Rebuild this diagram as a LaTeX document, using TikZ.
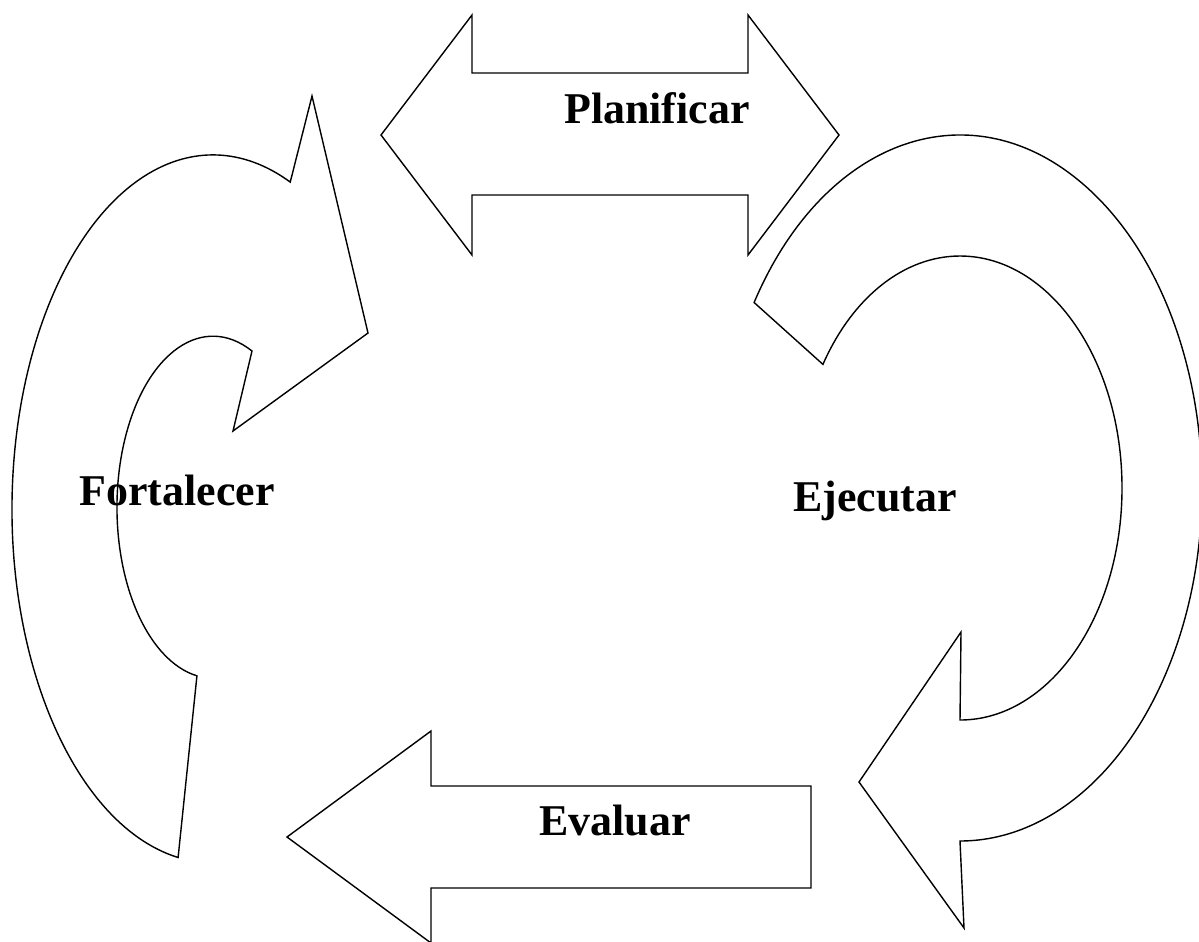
\documentclass[tikz,border=0pt]{standalone}
\usepackage{fontspec}
\setmainfont{Liberation Serif}

\begin{document}
\begin{tikzpicture}[x=0.02cm,y=-0.02cm,
  flecha/.style={draw,line width=0.8pt,line join=miter},
  etiqueta/.style={font=\bfseries\fontsize{25}{30}\selectfont}]
\useasboundingbox (0,0) rectangle (1199,941);
% Planificar (doble)
\draw[flecha] (381,135) -- (472,15) -- (472,73) -- (748,73) -- (748,15) -- (839,135)
  -- (748,255) -- (748,195) -- (472,195) -- (472,255) -- cycle;
% Evaluar
\draw[flecha] (287,837) -- (431,731) -- (431,786) -- (811,786) -- (811,888)
  -- (431,888) -- (431,943) -- cycle;
% Ejecutar (curva)
\draw[flecha] (754.1,302.5)
  arc[start angle=-148.3,end angle=90,x radius=242,y radius=353]
  -- (964,928) -- (859,782) -- (961,632) -- (960,720)
  arc[start angle=90,end angle=-147.8,x radius=162,y radius=232] -- cycle;
% Fortalecer (curva)
\draw[flecha] (178.1,857.5)
  arc[start angle=100,end angle=292.6,x radius=201,y radius=354]
  -- (312,96) -- (368,333) -- (233,431) -- (252,351)
  arc[start angle=294,end angle=99.6,x radius=96,y radius=171] -- cycle;
\node[etiqueta] (planificar) at (657,108) {Planificar};
\node[etiqueta] (ejecutar) at (875,501) {Ejecutar};
\node[etiqueta] (evaluar) at (615,821) {Evaluar};
\node[etiqueta] (fortalecer) at (177,490) {Fortalecer};
\end{tikzpicture}
\end{document}
